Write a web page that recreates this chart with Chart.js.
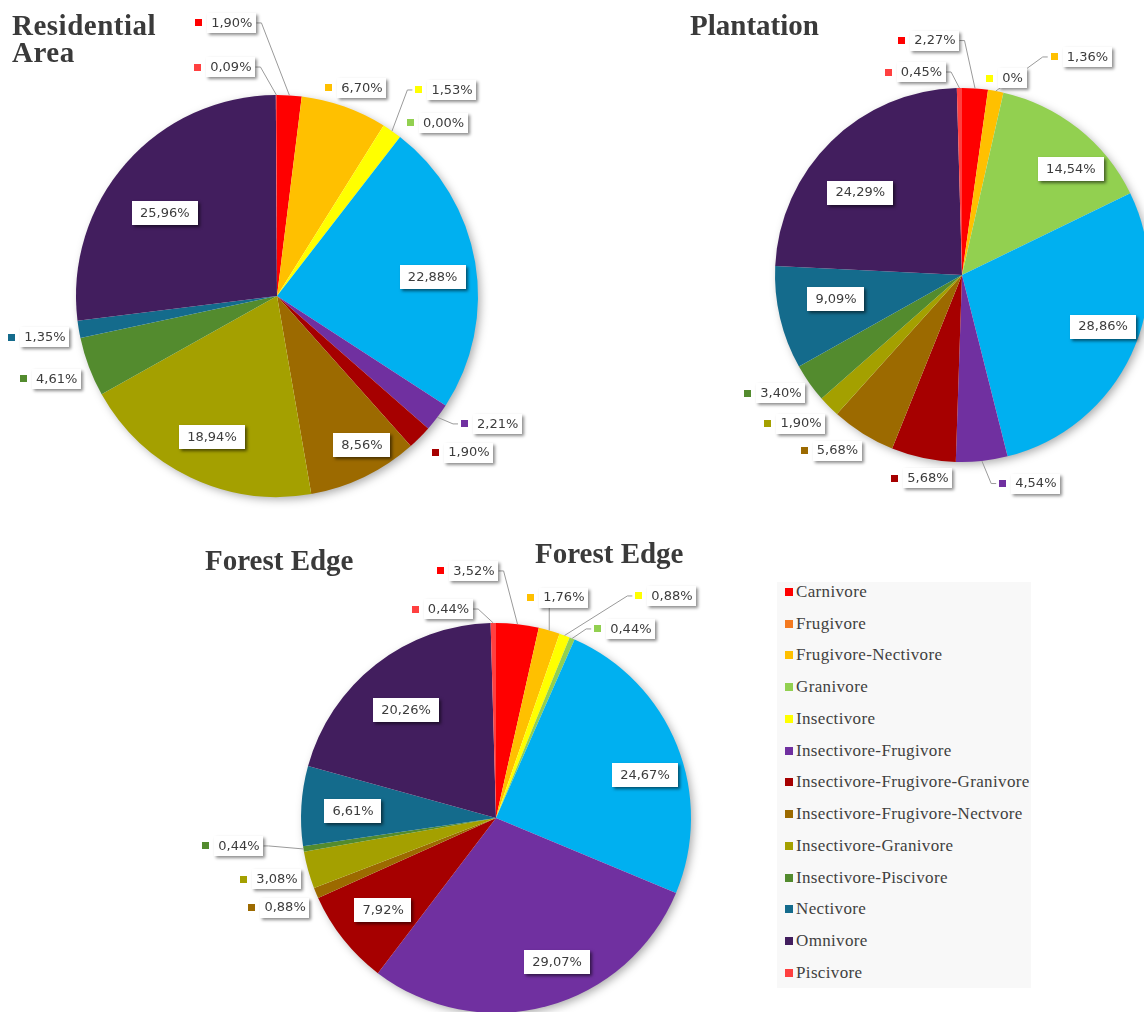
<!DOCTYPE html>
<html>
<head>
<meta charset="utf-8">
<script src="https://cdn.jsdelivr.net/npm/chart.js@4.4.1/dist/chart.umd.min.js"></script>
<style>
html,body{margin:0;padding:0;background:#fff;overflow:hidden;width:1144px;height:1012px;}
#page{position:relative;width:1144px;height:1012px;overflow:hidden;background:#fff;}
canvas{position:absolute;}
.title{position:absolute;font-family:"Liberation Serif","Times New Roman",serif;font-weight:bold;font-size:29px;color:#3a3a3a;line-height:27px;white-space:nowrap;z-index:5;}
#legend{position:absolute;left:777px;top:582px;width:254px;height:406px;background:#f8f8f8;font-family:"Liberation Serif","Times New Roman",serif;font-size:17px;color:#404040;}
.li{position:absolute;left:0;height:20px;line-height:20px;white-space:nowrap;letter-spacing:0.35px;}
.li i{position:absolute;left:8px;top:6px;width:8px;height:8px;}
.li span{position:absolute;left:19px;top:0;}
</style>
</head>
<body>
<div id="page">
  <canvas id="cRes" width="570" height="520" style="left:0;top:0;width:570px;height:520px"></canvas>
  <canvas id="cPla" width="460" height="520" style="left:700px;top:0;width:460px;height:520px"></canvas>
  <canvas id="cFor" width="580" height="495" style="left:180px;top:520px;width:580px;height:495px"></canvas>
  <div class="title" style="left:12px;top:12px;letter-spacing:0.5px">Residential<br>Area</div>
  <div class="title" style="left:690px;top:12px">Plantation</div>
  <div class="title" style="left:205px;top:547px">Forest Edge</div>
  <div class="title" style="left:535px;top:540px">Forest Edge</div>
  <div id="legend"></div>
</div>
<script>
// ---- categories (slice order, clockwise from 12 o'clock) ----
const sliceNames = ["Carnivore","Frugivore-Nectivore","Insectivore","Granivore","Unlisted guild",
  "Insectivore-Frugivore","Insectivore-Frugivore-Granivore","Insectivore-Frugivore-Nectvore",
  "Insectivore-Granivore","Insectivore-Piscivore","Nectivore","Omnivore","Piscivore"];
const sliceColors = ["#FF0000","#FFC000","#FFFF00","#92D050","#00B0F0",
  "#7030A0","#A60000","#9C6A00","#A4A000","#538B2E","#146B8C","#421E5E","#FF4040"];

// ---- series values (percent) ----
const residentialValues = [1.90, 6.70, 1.53, 0.00, 22.88, 2.21, 1.90, 8.56, 18.94, 4.61, 1.35, 25.96, 0.09];
const plantationValues  = [2.27, 1.36, 0.00, 14.54, 28.86, 4.54, 5.68, 5.68, 1.90, 3.40, 9.09, 24.29, 0.45];
const forestValues      = [3.52, 1.76, 0.88, 0.44, 24.67, 29.07, 7.92, 0.88, 3.08, 0.44, 6.61, 20.26, 0.44];

// ---- data label texts ----
const residentialLabels = ["1,90%","6,70%","1,53%","0,00%","22,88%","2,21%","1,90%","8,56%","18,94%","4,61%","1,35%","25,96%","0,09%"];
const plantationLabels  = ["2,27%","1,36%","0%","14,54%","28,86%","4,54%","5,68%","5,68%","1,90%","3,40%","9,09%","24,29%","0,45%"];
const forestLabels      = ["3,52%","1,76%","0,88%","0,44%","24,67%","29,07%","7,92%","0,88%","3,08%","0,44%","6,61%","20,26%","0,44%"];

// ---- legend ----
const legendNames = ["Carnivore","Frugivore","Frugivore-Nectivore","Granivore","Insectivore","Insectivore-Frugivore",
  "Insectivore-Frugivore-Granivore","Insectivore-Frugivore-Nectvore","Insectivore-Granivore","Insectivore-Piscivore",
  "Nectivore","Omnivore","Piscivore"];
const legendColors = ["#FF0000","#F47A20","#FFC000","#92D050","#FFFF00","#7030A0","#A60000","#9C6A00","#A4A000","#538B2E","#146B8C","#421E5E","#FF4040"];

// ---- label layout: [angle clockwise from 12 o'clock (deg), distance in radii, leader line] ----
const resPlacement = [[350.6,1.377,true],[22.2,1.118,false],[40.35,1.345,true],[43.9,1.195,false],[83.1,0.78],
  [120.1,1.269,true],[129.2,1.232,false],[150.3,0.853],[204.75,0.773],[249.4,1.171,false],[259.9,1.173,false],[306.5,0.694],[348.6,1.162,true]];
const plaPlacement = [[353.4,1.262,true],[29.9,1.345,true],[14.4,1.085,false],[45.9,0.811],[110.1,0.803],
  [160.5,1.183,true],[189.5,1.103,false],[215.35,1.151,false],[227.3,1.171,false],[236.8,1.157,false],[259,0.686],[309,0.70],[348.7,1.107,true]];
const forPlacement = [[354.9,1.272,true],[17.1,1.183,true],[38.4,1.453,true],[35.5,1.191,true],[73.9,0.795],
  [157.0,0.802],[230.8,0.747],[247,1.175,false],[254.4,1.166,false],[263.8,1.326,true],[272.8,0.734],[320.2,0.721],[347.2,1.099,true]];

// legend (HTML text)
const lg = document.getElementById('legend');
legendNames.forEach((n,i)=>{
  const d = document.createElement('div');
  d.className='li';
  d.style.top = (31.75*i - 0.25)+'px';
  d.innerHTML = '<i style="background:'+legendColors[i]+'"></i><span>'+n+'</span>';
  lg.appendChild(d);
});

const pieShadow = {
  id:'pieShadow',
  beforeDatasetsDraw(chart){
    const arc = chart.getDatasetMeta(0).data[0];
    if(!arc) return;
    const ctx = chart.ctx;
    ctx.save();
    ctx.shadowColor='rgba(0,0,0,0.35)';
    ctx.shadowBlur=10;
    ctx.shadowOffsetX=3;
    ctx.shadowOffsetY=3;
    ctx.fillStyle='#ffffff';
    ctx.beginPath();
    ctx.arc(arc.x, arc.y, arc.outerRadius-1, 0, Math.PI*2);
    ctx.fill();
    ctx.restore();
  }
};

const pieLabels = {
  id:'pieLabels',
  afterDatasetsDraw(chart, args, opts){
    const ctx = chart.ctx;
    const meta = chart.getDatasetMeta(0);
    const colors = chart.data.datasets[0].backgroundColor;
    ctx.save();
    ctx.font = '13px "DejaVu Sans", sans-serif';
    ctx.textBaseline = 'middle';
    ctx.textAlign = 'left';
    meta.data.forEach((arc,i)=>{
      const pl = opts.placement[i];
      const txt = opts.texts[i];
      if(!pl || !txt) return;
      const R = arc.outerRadius;
      const a = (pl[0]-90)*Math.PI/180;
      const px = arc.x + pl[1]*R*Math.cos(a);
      const py = arc.y + pl[1]*R*Math.sin(a);
      const tw = ctx.measureText(txt).width;
      const inside = pl[1] < 1;
      if(inside){
        const bw = tw+16, bh = 24;
        ctx.save();
        ctx.shadowColor='rgba(0,0,0,0.55)';
        ctx.shadowBlur=3; ctx.shadowOffsetX=2; ctx.shadowOffsetY=2;
        ctx.fillStyle='#ffffff';
        ctx.fillRect(Math.round(px-bw/2), Math.round(py-bh/2), Math.round(bw), bh);
        ctx.restore();
        ctx.fillStyle='#3c3c3c';
        ctx.fillText(txt, px-tw/2, py+0.5);
      } else {
        const tl = px - tw/2, tr = px + tw/2;
        const bh = 20;
        if(pl[2]){
          const mid = (arc.startAngle+arc.endAngle)/2;
          const ax = arc.x + R*Math.cos(mid), ay = arc.y + R*Math.sin(mid);
          const left = tl-19, right = tr+4, top = py-bh/2, bottom = py+bh/2;
          ctx.save();
          ctx.strokeStyle='#9a9a9a';
          ctx.lineWidth=1;
          ctx.beginPath();
          if(ax < left){
            ctx.moveTo(left, py); ctx.lineTo(left-5, py); ctx.lineTo(ax, ay);
          } else if(ax > right){
            ctx.moveTo(right, py); ctx.lineTo(right+5, py); ctx.lineTo(ax, ay);
          } else if(ay > bottom){
            ctx.moveTo(ax, bottom); ctx.lineTo(ax, ay);
          } else {
            ctx.moveTo(ax, top); ctx.lineTo(ax, ay);
          }
          ctx.stroke();
          ctx.restore();
        }
        ctx.save();
        ctx.shadowColor='rgba(0,0,0,0.45)';
        ctx.shadowBlur=3; ctx.shadowOffsetX=2; ctx.shadowOffsetY=2;
        ctx.fillStyle='#ffffff';
        ctx.fillRect(Math.round(tl-4), Math.round(py-bh/2), Math.round(tw+8), bh);
        ctx.restore();
        ctx.fillStyle = colors[i];
        ctx.fillRect(Math.round(tl-16), Math.round(py-3.5), 7, 7);
        ctx.fillStyle='#3c3c3c';
        ctx.fillText(txt, tl, py+0.5);
      }
    });
    ctx.restore();
  }
};

function makePie(id, values, texts, placement, pad){
  return new Chart(document.getElementById(id), {
    type:'pie',
    data:{ labels: sliceNames, datasets:[{ data: values, backgroundColor: sliceColors, borderWidth:0, hoverOffset:0 }] },
    options:{
      responsive:false, animation:false, events:[],
      layout:{ padding: pad },
      plugins:{ legend:{display:false}, tooltip:{enabled:false}, title:{display:false},
        pieLabels:{ texts: texts, placement: placement } }
    },
    plugins:[pieShadow, pieLabels]
  });
}

makePie('cRes', residentialValues, residentialLabels, resPlacement, {left:76, top:95, right:92, bottom:23});
makePie('cPla', plantationValues, plantationLabels, plaPlacement, {left:75, top:88, right:11, bottom:58});
makePie('cFor', forestValues, forestLabels, forPlacement, {left:121, top:103, right:69, bottom:2});
</script>
</body>
</html>
